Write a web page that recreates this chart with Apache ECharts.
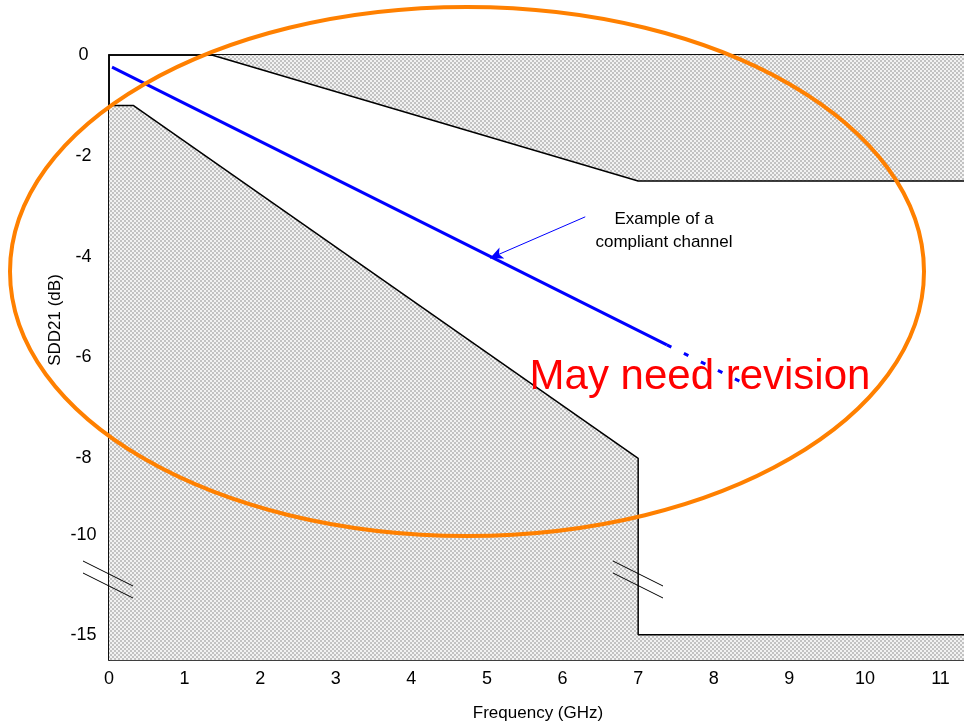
<!DOCTYPE html>
<html>
<head>
<meta charset="utf-8">
<script src="https://cdn.jsdelivr.net/npm/echarts@6/dist/echarts.min.js"></script>
<style>html,body{margin:0;padding:0;background:#fff}#c{width:964px;height:725px}</style>
</head>
<body>
<div id="c"></div>
<script>
// ---- data (frequency in GHz, SDD21 in dB) ----
const xTicks = [0,1,2,3,4,5,6,7,8,9,10,11];
const yTickLabels = [0,-2,-4,-6,-8,-10,-15];
const upperLimitX = [1.36, 7, 11.35];
const upperLimitY = [0, -2.5, -2.5];
const lowerLimitX = [0, 0.32, 7, 7, 11.35];
const lowerLimitY = [-1, -1, -8, -15, -15];
const channelX = [0.04, 7.38];
const channelY = [-0.24, -5.75];
const channelExtX = [7.38, 8.41];
const channelExtY = [-5.75, -6.52];
const arrowFrom = [6.30, -3.21];
const arrowTo = [5.04, -4.03];

// broken y axis: dB -> display units
function ymap(v){
  if (v >= -8) return v;
  if (v >= -10) return -8 + (v + 8) * (1.52 / 2);
  return -9.52 + (v + 10) * (1.98 / 5);
}
const yTickPos = yTickLabels.map(ymap);
function pts(xs, ys){ return xs.map((x,i)=>[x, ymap(ys[i])]); }

// hatch pattern
const pc = document.createElement('canvas');
pc.width = 4; pc.height = 4;
const g = pc.getContext('2d');
g.fillStyle = '#f2f2f2'; g.fillRect(0,0,4,4);
g.fillStyle = '#c2c2c2';
g.fillRect(0,0,2,2); g.fillRect(2,2,2,2);
const hatch = {image: pc, repeat: 'repeat'};

const chart = echarts.init(document.getElementById('c'), null, {renderer:'canvas'});
const font = 'Liberation Sans, Arial, sans-serif';
chart.setOption({
  animation: false,
  backgroundColor: '#fff',
  grid: {left: 109, right: -3, top: 55, bottom: 65, show: true, borderColor: '#000', borderWidth: 1.5,
         containLabel: false, outerBoundsMode: 'none'},
  xAxis: {
    type: 'value', min: 0, max: 11.35,
    name: 'Frequency (GHz)', nameLocation: 'middle', nameGap: 45,
    nameTextStyle: {fontFamily: font, fontSize: 17, color: '#000'},
    axisLine: {show: true, lineStyle: {color: '#000', width: 1.5}},
    axisTick: {show: false},
    splitLine: {show: false},
    axisLabel: {customValues: xTicks, fontFamily: font, fontSize: 18, color: '#000', margin: 10}
  },
  yAxis: {
    type: 'value', min: -12, max: 0,
    axisLine: {show: true, lineStyle: {color: '#000', width: 1.5}},
    axisTick: {show: false},
    splitLine: {show: false},
    axisLabel: {
      customValues: yTickPos, fontFamily: font, fontSize: 18, color: '#000', margin: 25.5, align: 'center',
      formatter: function(v){
        let best = 0, bd = 1e9;
        yTickPos.forEach((p,i)=>{ const d = Math.abs(p - v); if (d < bd){bd = d; best = i;} });
        return String(yTickLabels[best]);
      }
    }
  },
  series: [
    {type: 'line', data: pts(upperLimitX, upperLimitY), symbol: 'none',
     lineStyle: {color: '#000', width: 1.5}, areaStyle: {color: hatch, opacity: 1, origin: 'end'}, z: 2},
    {type: 'line', data: pts(lowerLimitX, lowerLimitY), symbol: 'none',
     lineStyle: {color: '#000', width: 1.5}, areaStyle: {color: hatch, opacity: 1, origin: 'start'}, z: 2},
    {type: 'line', data: pts(channelX, channelY), symbol: 'none',
     lineStyle: {color: '#0000ff', width: 3}, z: 3,
     markLine: {silent: true, symbol: ['none', 'arrow'], symbolSize: [9, 13],
       lineStyle: {color: '#0000ff', width: 1, type: 'solid'}, label: {show: false},
       data: [[{coord: [arrowFrom[0], ymap(arrowFrom[1])]}, {coord: [arrowTo[0], ymap(arrowTo[1])]}]]}},
    {type: 'line', data: pts(channelExtX, channelExtY), symbol: 'none',
     lineStyle: {color: '#0000ff', width: 3, type: [5, 14]}, z: 3}
  ],
  graphic: [
    {type: 'text', x: 55, y: 320, rotation: Math.PI/2,
     style: {text: 'SDD21 (dB)', fontFamily: font, fontSize: 17, fill: '#000', align: 'center', verticalAlign: 'middle'}},
    {type: 'text', x: 664, y: 231,
     style: {text: 'Example of a\ncompliant channel', fontFamily: font, fontSize: 17, lineHeight: 23, fill: '#000', align: 'center', verticalAlign: 'middle'}},
    {type: 'line', shape: {x1: 83, y1: 561, x2: 133, y2: 586}, style: {stroke: '#000', lineWidth: 1}, z: 10},
    {type: 'line', shape: {x1: 83, y1: 573, x2: 133, y2: 598}, style: {stroke: '#000', lineWidth: 1}, z: 10},
    {type: 'line', shape: {x1: 613, y1: 561, x2: 663, y2: 586}, style: {stroke: '#000', lineWidth: 1}, z: 10},
    {type: 'line', shape: {x1: 613, y1: 573, x2: 663, y2: 598}, style: {stroke: '#000', lineWidth: 1}, z: 10},
    {type: 'text', x: 700, y: 377, z: 20,
     style: {text: 'May need revision', fontFamily: font, fontSize: 42, fill: '#ff0000', align: 'center', verticalAlign: 'middle'}},
    {type: 'ellipse', shape: {cx: 467, cy: 271.5, rx: 457, ry: 264.5}, z: 30,
     style: {fill: null, stroke: '#ff8000', lineWidth: 4}}
  ]
});
</script>
</body>
</html>
